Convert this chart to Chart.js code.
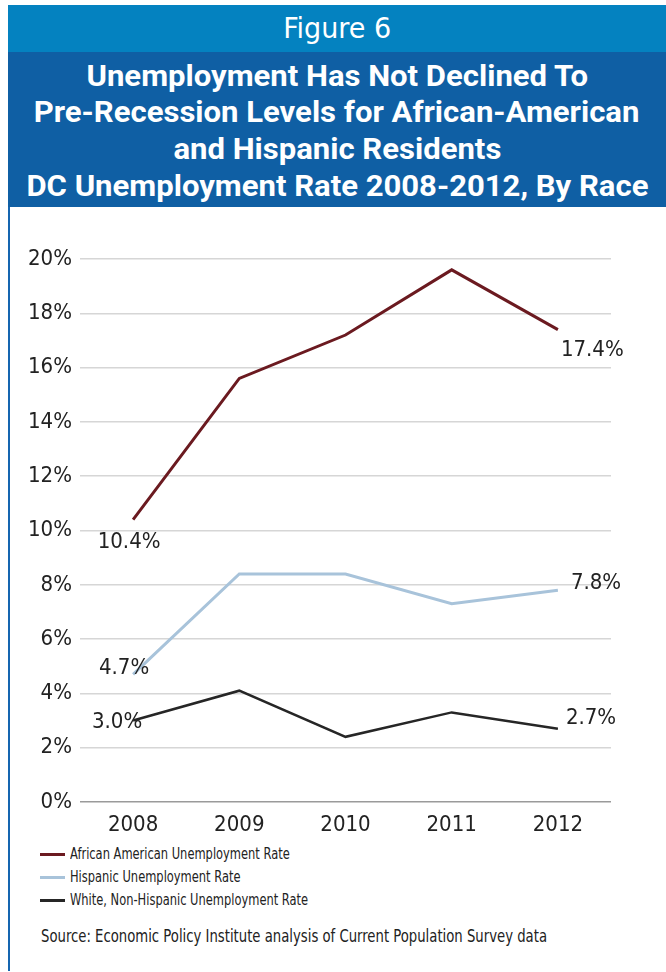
<!DOCTYPE html>
<html>
<head>
<meta charset="utf-8">
<script src="https://cdn.jsdelivr.net/npm/chart.js@4"></script>
<style>
  body { margin: 0; width: 666px; height: 972px; background: #fff; position: relative; overflow: hidden; }
  .frame { position: absolute; left: 8px; top: 5px; width: 2px; height: 966px; background: #1565b0; }
  .fig { position: absolute; left: 8px; top: 5px; width: 658px; height: 47px; background: #0482c0;
         color: #fff; font: 29px "DejaVu Sans Condensed", sans-serif;
         text-align: center; line-height: 47px; }
  .title { position: absolute; left: 8px; top: 52px; width: 658px; height: 155px; background: #0f5fa4;
           color: #fff; font: bold 30px Roboto, sans-serif; text-align: center; }
  .title div { position: absolute; left: 0; width: 658px; white-space: nowrap; text-align: center; line-height: 36px; }
  #wrap { position: absolute; left: 10px; top: 210px; width: 656px; height: 630px; }
  .legend { position: absolute; left: 40px; top: 843px; font: 15px "DejaVu Sans Condensed", sans-serif; color: #222; }
  .legend div { height: 23px; line-height: 23px; white-space: nowrap; }
  .legend span { display: inline-block; width: 25px; height: 3px; vertical-align: middle; margin-right: 5px; }
  .source { position: absolute; left: 41px; top: 926px; font: 17px "DejaVu Sans Condensed", sans-serif; color: #222; white-space: nowrap; }
</style>
</head>
<body>
<div class="frame"></div>
<div class="fig"><span id="figtxt" style="display:inline-block">Figure 6</span></div>
<div class="title">
  <div style="top:6px"><span>Unemployment Has Not Declined To</span></div>
  <div style="top:42px"><span>Pre-Recession Levels for African-American</span></div>
  <div style="top:79px"><span>and Hispanic Residents</span></div>
  <div style="top:116px"><span>DC Unemployment Rate 2008-2012, By Race</span></div>
</div>
<div id="wrap"><canvas id="chart" width="656" height="630"></canvas></div>
<div class="legend" id="legend"></div>
<div class="source" id="source">Source: Economic Policy Institute analysis of Current Population Survey data</div>
<script>
const years = ['2008', '2009', '2010', '2011', '2012'];
const africanAmerican = [10.4, 15.6, 17.2, 19.6, 17.4];
const hispanic = [4.7, 8.4, 8.4, 7.3, 7.8];
const white = [3.0, 4.1, 2.4, 3.3, 2.7];
const seriesNames = ['African American Unemployment Rate', 'Hispanic Unemployment Rate', 'White, Non-Hispanic Unemployment Rate'];
const seriesColors = ['#6b1a20', '#a8c3da', '#262626'];

const FONT = '"DejaVu Sans Condensed", sans-serif';

// end labels: [dataset, index, dx, dy, align]
const endLabels = [
  [0, 0, -4, 23, 'center'],
  [0, 4, 3, 21, 'left'],
  [1, 0, -9, -6, 'center'],
  [1, 4, 13, -7, 'left'],
  [2, 0, -16, 2, 'center'],
  [2, 4, 8, -10, 'left']
];

const labelPlugin = {
  id: 'endLabels',
  afterDatasetsDraw(chart) {
    const ctx = chart.ctx;
    ctx.save();
    ctx.font = '22px ' + FONT;
    ctx.fillStyle = '#222';
    ctx.textBaseline = 'middle';
    endLabels.forEach(([d, i, dx, dy, align]) => {
      const pt = chart.getDatasetMeta(d).data[i];
      const v = chart.data.datasets[d].data[i];
      ctx.textAlign = align;
      ctx.fillText(v.toFixed(1) + '%', pt.x + dx, pt.y + dy);
    });
    ctx.restore();
  }
};

const data = [africanAmerican, hispanic, white];

new Chart(document.getElementById('chart'), {
  type: 'line',
  data: {
    labels: years,
    datasets: data.map((d, i) => ({
      label: seriesNames[i],
      data: d,
      borderColor: seriesColors[i],
      borderWidth: i === 2 ? 2.5 : 3,
      pointRadius: 0,
      tension: 0
    }))
  },
  options: {
    responsive: false,
    animation: false,
    layout: { padding: { top: 49, right: 55, left: 0, bottom: 0 } },
    plugins: { legend: { display: false }, tooltip: { enabled: false } },
    scales: {
      x: {
        offset: true,
        grid: { display: false },
        border: { display: false },
        ticks: { color: '#222', font: { family: FONT, size: 22 }, padding: 2 },
        afterFit(s) { s.height = 38; }
      },
      y: {
        min: 0,
        max: 20,
        border: { display: false },
        grid: {
          drawTicks: false,
          lineWidth: 1.5,
          color: c => c.tick.value === 0 ? '#9a9a9a' : '#d6d6d6'
        },
        ticks: {
          stepSize: 2,
          padding: 8,
          color: '#222',
          font: { family: FONT, size: 22 },
          callback: v => v + '%'
        },
        afterFit(s) { s.width = 70; }
      }
    }
  },
  plugins: [labelPlugin]
});

document.getElementById('legend').innerHTML = seriesNames.map((n, i) =>
  '<div><span style="background:' + seriesColors[i] + '"></span><b style="font-weight:normal;display:inline-block">' + n + '</b></div>').join('');

// squeeze text horizontally to match the condensed face of the original
function fit(el, w, origin) {
  const s = w / el.getBoundingClientRect().width;
  el.style.display = 'inline-block';
  el.style.transformOrigin = origin;
  el.style.transform = 'scaleX(' + s + ')';
}
document.querySelectorAll('.title span').forEach(el => el.style.display = 'inline-block');
const line4 = document.querySelectorAll('.title span')[3];
const titleScale = 622 / line4.getBoundingClientRect().width;
document.querySelectorAll('.title span').forEach(el => {
  el.style.transform = 'scaleX(' + titleScale + ')';
  el.style.transformOrigin = 'center';
});
fit(document.getElementById('figtxt'), 108, 'center');
fit(document.querySelector('#legend div b'), 220, 'left');
const legScale = 220 / document.querySelector('#legend div b').getBoundingClientRect().width;
document.querySelectorAll('#legend div b').forEach(el => {
  el.style.transformOrigin = 'left';
  el.style.transform = 'scaleX(' + (220 / document.querySelector('#legend div b').offsetWidth) + ')';
});
fit(document.getElementById('source'), 506, 'left');
</script>
</body>
</html>
